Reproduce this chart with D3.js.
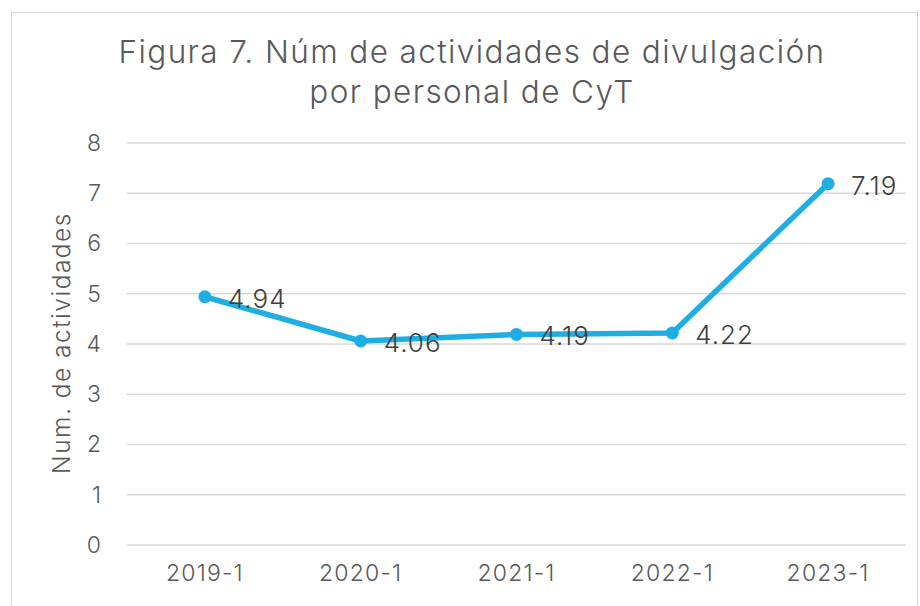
<!DOCTYPE html>
<html>
<head>
<meta charset="utf-8">
<script src="https://cdn.jsdelivr.net/npm/d3@7"></script>
<style>
  body { margin: 0; background: #fff; }
  svg { font-family: "Inter", "DejaVu Sans", sans-serif; }
</style>
</head>
<body>
<svg id="chart" width="920" height="606"></svg>
<script>
// data
const periods = ["2019-1", "2020-1", "2021-1", "2022-1", "2023-1"];
const activities = [4.94, 4.06, 4.19, 4.22, 7.19];
const yTicks = [0, 1, 2, 3, 4, 5, 6, 7, 8];
const titleLines = ["Figura 7. Núm de actividades de divulgación", "por personal de CyT"];
const yTitle = "Num. de actividades";

const svg = d3.select("#chart");
const margin = { top: 143, right: 14, bottom: 61, left: 127 };
const W = 920, H = 606;

// chart border
svg.append("rect")
  .attr("x", 11.5).attr("y", 12.5)
  .attr("width", W - 14).attr("height", H)
  .attr("fill", "#fff").attr("stroke", "#d9d9d9").attr("stroke-width", 1);

const x = d3.scaleBand().domain(periods).range([margin.left, W - margin.right]);
const y = d3.scaleLinear().domain([0, 8]).range([H - margin.bottom, margin.top]);

// gridlines
svg.append("g").selectAll("line").data(yTicks).join("line")
  .attr("x1", margin.left).attr("x2", W - margin.right)
  .attr("y1", d => y(d)).attr("y2", d => y(d))
  .attr("stroke", "#d9d9d9").attr("stroke-width", 1.3);

// y axis labels
const yAxis = svg.append("g")
  .attr("transform", `translate(${margin.left},0)`)
  .call(d3.axisLeft(y).tickValues(yTicks).tickSize(0).tickPadding(26));
yAxis.select(".domain").remove();
yAxis.selectAll("text").attr("font-size", 23).attr("fill", "#595959")
  .attr("font-family", "Inter, sans-serif").attr("font-weight", 300);

// x axis labels
const xAxis = svg.append("g")
  .attr("transform", `translate(0,${H - margin.bottom})`)
  .call(d3.axisBottom(x).tickSize(0).tickPadding(20));
xAxis.select(".domain").remove();
xAxis.selectAll("text").attr("font-size", 23).attr("fill", "#595959")
  .attr("font-family", "Inter, sans-serif").attr("font-weight", 300)
  .attr("letter-spacing", 1.2);

// title
svg.append("text")
  .attr("x", 472).attr("y", 63)
  .attr("text-anchor", "middle").attr("font-size", 31.5).attr("fill", "#595959")
  .attr("font-weight", 300).attr("letter-spacing", 1.4)
  .selectAll("tspan").data(titleLines).join("tspan")
  .attr("x", 472).attr("dy", (d, i) => i === 0 ? 0 : 40)
  .text(d => d);

// y title
svg.append("text")
  .attr("transform", `translate(70,${y(4) - 1}) rotate(-90)`)
  .attr("text-anchor", "middle").attr("font-size", 24.5).attr("fill", "#595959")
  .attr("font-weight", 300).attr("letter-spacing", 1.5)
  .text(yTitle);

const cx = d => x(d) + x.bandwidth() / 2;
const pts = periods.map((p, i) => ({ p, v: activities[i] }));

// line
svg.append("path").datum(pts)
  .attr("fill", "none").attr("stroke", "#1FAEE3").attr("stroke-width", 5.5)
  .attr("stroke-linejoin", "round")
  .attr("d", d3.line().x(d => cx(d.p)).y(d => y(d.v)));

// markers
svg.append("g").selectAll("circle").data(pts).join("circle")
  .attr("cx", d => cx(d.p)).attr("cy", d => y(d.v)).attr("r", 6.5)
  .attr("fill", "#1FAEE3");

// data labels
svg.append("g").selectAll("text").data(pts).join("text")
  .attr("x", d => cx(d.p) + 23).attr("y", d => y(d.v) + 11)
  .attr("font-size", 26).attr("fill", "#404040").attr("font-weight", 300)
  .attr("letter-spacing", 1)
  .text(d => d.v.toFixed(2));
</script>
</body>
</html>
